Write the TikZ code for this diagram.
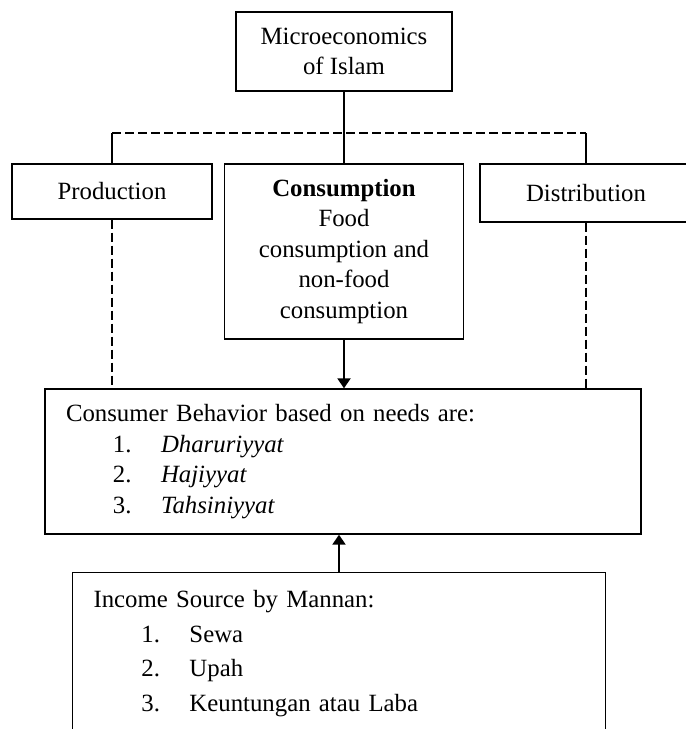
\documentclass[tikz,border=0pt]{standalone}
\usepackage{fontspec}
\setmainfont{Liberation Serif}
\usetikzlibrary{arrows.meta}

\begin{document}
\begin{tikzpicture}[
                x=0.5pt, y=-0.5pt,
                every node/.style={draw, line width=0.7pt, inner sep=0pt,
                    font=\fontsize{12.4}{15.25}\selectfont},
                box/.style={align=center},
                listbox/.style={align=left, inner xsep=10.5pt},
                link/.style={line width=0.65pt},
                bus/.style={line width=0.65pt, dash pattern=on 4.5pt off 2pt},
                feed/.style={line width=1.1pt, -{Triangle[length=5pt,width=6.5pt]}},
            ]
            \useasboundingbox (0,0) rectangle (686,729);
            \clip (0,0) rectangle (686,729);
            \node[box, minimum width=108pt, minimum height=39.5pt] (micro) at (344,51.5) {Microeconomics\\of Islam};
            \node[box, minimum width=100pt, minimum height=27.5pt] (prod) at (112,191.5) {Production};
            \node[box, minimum width=119.5pt, minimum height=87.5pt] (cons) at (344,251.5)
                {\textbf{Consumption}\\Food\\consumption and\\non-food\\consumption};
            \node[box, minimum width=106pt, minimum height=29pt] (dist) at (586,193) {Distribution};
            \node[listbox, text width=277pt, minimum height=72.5pt] (behav) at (343,461.5)
                {Consumer Behavior based on needs are:\\
                 \hspace*{23.5pt}\makebox[24pt][l]{1.}\textit{Dharuriyyat}\\
                 \hspace*{23.5pt}\makebox[24pt][l]{2.}\textit{Hajiyyat}\\
                 \hspace*{23.5pt}\makebox[24pt][l]{3.}\textit{Tahsiniyyat}};
            \node[listbox, text width=245.5pt, minimum height=81pt, anchor=north] (income) at (339,572)
                {Income Source by Mannan:\\[2pt]
                 \hspace*{24pt}\makebox[24pt][l]{1.}Sewa\\[2pt]
                 \hspace*{24pt}\makebox[24pt][l]{2.}Upah\\[2pt]
                 \hspace*{24pt}\makebox[24pt][l]{3.}Keuntungan atau Laba};
            \coordinate (split) at (344,133);
            \draw[link] (micro.south) -- (cons.north);
            \draw[link] (prod.north) -- (prod.north |- split);
            \draw[bus] (prod.north |- split) -- (dist.north |- split);
            \draw[link] (dist.north |- split) -- (dist.north);
            \draw[bus] (prod.south) -- (prod.south |- behav.north);
            \draw[bus] (dist.south) -- (dist.south |- behav.north);
            \draw[feed] (cons.south) -- (cons.south |- behav.north);
            \draw[feed] (income.north) -- (income.north |- behav.south);
\end{tikzpicture}
\end{document}
